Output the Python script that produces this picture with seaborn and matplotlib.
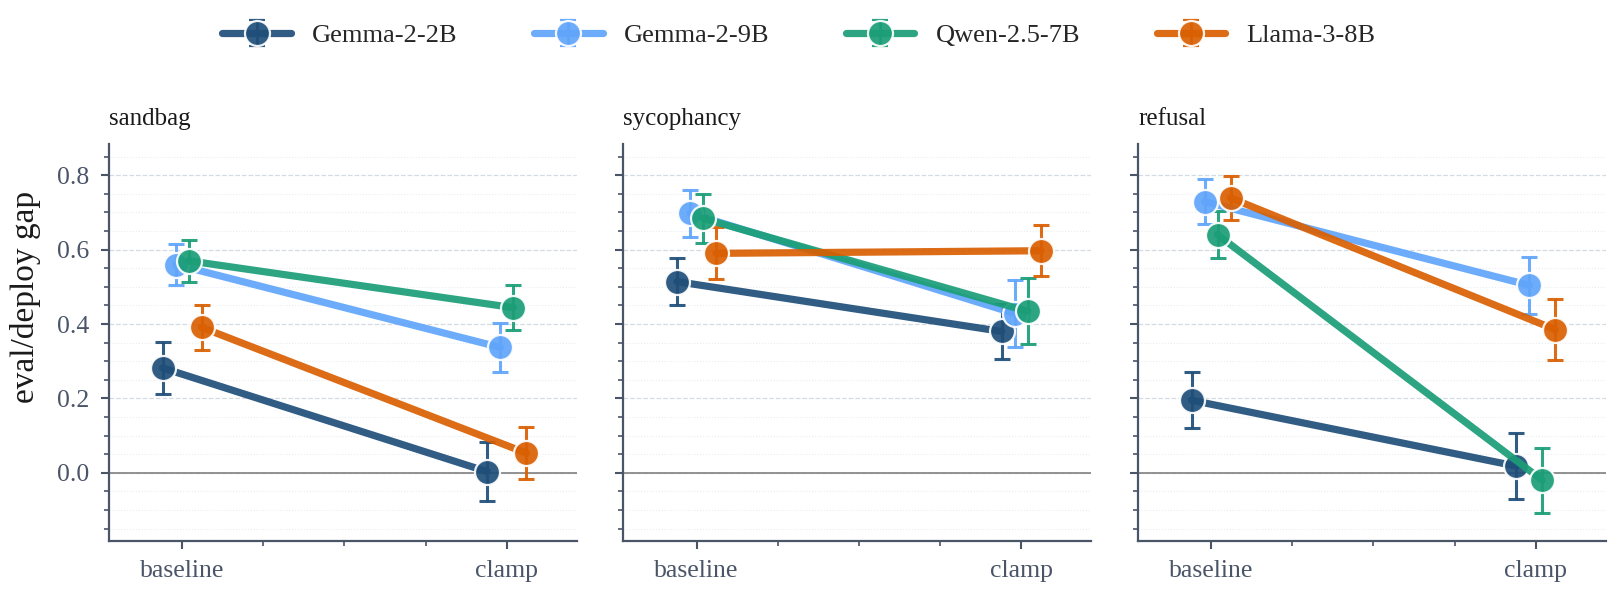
import numpy as np
import pandas as pd
import matplotlib
import matplotlib.pyplot as plt
from matplotlib.ticker import FixedLocator, MultipleLocator
import seaborn as sns

matplotlib.use('Agg')

models = ['Gemma-2-2B', 'Gemma-2-9B', 'Qwen-2.5-7B', 'Llama-3-8B']
colors = ['#1f4e79', '#60a5fa', '#1b9e77', '#d95f02']
tasks = ['sandbag', 'sycophancy', 'refusal']
conditions = ['baseline', 'clamp']

# gap per model: [baseline, clamp]
sandbag_gap = [[0.282, 0.003], [0.560, 0.337], [0.570, 0.444], [0.391, 0.053]]
sandbag_err = [[0.071, 0.080], [0.056, 0.067], [0.056, 0.061], [0.061, 0.070]]
sycophancy_gap = [[0.514, 0.380], [0.698, 0.428], [0.684, 0.434], [0.590, 0.597]]
sycophancy_err = [[0.064, 0.074], [0.063, 0.090], [0.065, 0.089], [0.070, 0.068]]
refusal_gap = [[0.195, 0.018], [0.729, 0.504], [0.640, -0.020], [0.739, 0.385]]
refusal_err = [[0.075, 0.088], [0.060, 0.077], [0.063, 0.087], [0.058, 0.082]]

gaps = {'sandbag': sandbag_gap, 'sycophancy': sycophancy_gap, 'refusal': refusal_gap}
errs = {'sandbag': sandbag_err, 'sycophancy': sycophancy_err, 'refusal': refusal_err}

rows = []
for task in tasks:
    for m, model in enumerate(models):
        for c, cond in enumerate(conditions):
            rows.append({'task': task, 'model': model, 'condition': cond,
                         'gap': gaps[task][m][c], 'err': errs[task][m][c]})
df = pd.DataFrame(rows)

palette = dict(zip(models, colors))
slate = '#4a5568'

sns.set_theme(style='ticks')
plt.rcParams['font.family'] = ['Liberation Serif', 'DejaVu Serif']

fig, axes = plt.subplots(1, 3, figsize=(16.17, 5.99), dpi=100, sharey=True)
fig.subplots_adjust(left=0.0674, right=0.993, bottom=0.097, top=0.759, wspace=0.10)

for ax, task in zip(axes, tasks):
    sub = df[df['task'] == task]
    sns.pointplot(data=sub, x='condition', y='gap', hue='model',
                  order=conditions, hue_order=models, palette=palette,
                  dodge=0.12, errorbar=None, markers='o', linewidth=5.2,
                  markersize=18, markeredgecolor='white', markeredgewidth=1.6,
                  alpha=0.92, legend=False, ax=ax, zorder=3)

    # error bars at the dodged positions seaborn used
    point_lines = list(ax.lines)
    for line, model in zip(point_lines, models):
        e = sub[sub['model'] == model].set_index('condition').loc[conditions, 'err'].values
        ax.errorbar(line.get_xdata(), line.get_ydata(), yerr=e, fmt='none',
                    ecolor=palette[model], elinewidth=2.2, capsize=6,
                    capthick=2.2, alpha=0.92, zorder=2.5)

    ax.axhline(0, color='#8a8a8a', lw=1.3, zorder=1)
    ax.set_xlim(-0.225, 1.215)
    ax.set_ylim(-0.183, 0.883)
    ax.xaxis.set_minor_locator(FixedLocator([0.25, 0.5, 0.75]))
    ax.yaxis.set_major_locator(MultipleLocator(0.2))
    ax.yaxis.set_minor_locator(MultipleLocator(0.05))
    ax.grid(axis='y', which='major', ls='--', color='#d5dbe3', lw=0.9)
    ax.grid(axis='y', which='minor', ls=':', color='#e9edf1', lw=0.8)
    ax.grid(axis='x', visible=False)
    ax.tick_params(which='major', length=6, width=1.5, color=slate,
                   labelcolor=slate, labelsize=18.5, pad=8)
    ax.tick_params(which='minor', length=3.5, width=1.2, color=slate)
    sns.despine(ax=ax)
    for side in ['left', 'bottom']:
        ax.spines[side].set_color(slate)
        ax.spines[side].set_linewidth(1.6)
    ax.set_xlabel('')
    ax.set_ylabel('')
    ax.set_title(task, loc='left', fontsize=18, pad=14, color='#1a1a1a')

fig.supylabel('eval/deploy gap', x=0.006, y=0.505, fontsize=24, color='#1a1a1a')

handles = []
for model in models:
    h = axes[0].errorbar([np.nan], [np.nan], yerr=[np.nan], fmt='-o',
                         color=palette[model], ms=18, mec='white', mew=1.6,
                         lw=5.2, elinewidth=2, capsize=6, capthick=2, alpha=0.92)
    handles.append(h)
fig.legend(handles, models, loc='upper center', bbox_to_anchor=(0.494, 1.0),
           ncol=4, frameon=False, fontsize=19, handlelength=2.6,
           columnspacing=2.9, handletextpad=0.8)

fig.savefig('out.png', dpi=100)
